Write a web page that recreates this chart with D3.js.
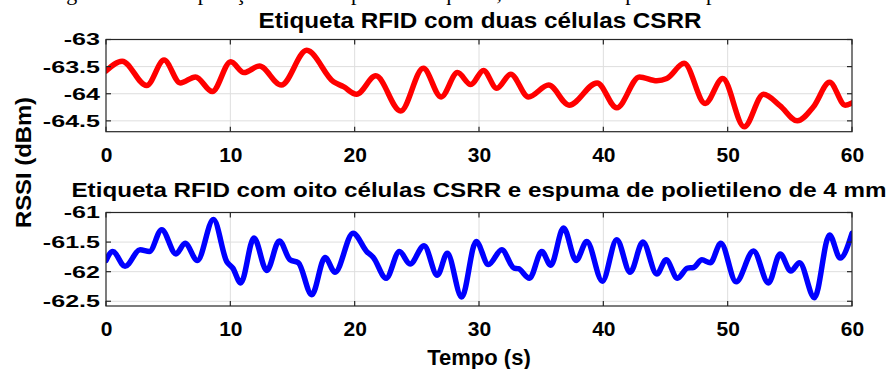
<!DOCTYPE html>
<html>
<head>
<meta charset="utf-8">
<script src="https://cdn.jsdelivr.net/npm/d3@7"></script>
<style>
  html, body { margin: 0; padding: 0; background: #fff; }
  svg { display: block; }
  text { font-family: "Liberation Sans", Arial, sans-serif; font-weight: bold; fill: #000; }
</style>
</head>
<body>
<svg id="chart" width="889" height="369"></svg>
<script>
// ---------------- data ----------------
const captionFragment = "Figura 41 – Comparação do RSSI para as etiquetas, com e sem espuma de polietileno";
const titleTop = "Etiqueta RFID com duas células CSRR";
const titleBottom = "Etiqueta RFID com oito células CSRR e espuma de polietileno de 4 mm";
const yLabel = "RSSI (dBm)";
const xLabel = "Tempo (s)";

const xTicks = [0, 10, 20, 30, 40, 50, 60];
const yTicksTop = [-63, -63.5, -64, -64.5];
const yTicksBottom = [-61, -61.5, -62, -62.5];

const timeTop = [0, 1.3, 3.27, 4.67, 5.97, 7.2, 8.55, 10.03, 11.1, 12.33, 14.1, 16.14, 18.3, 19.1, 20.15,
  21.7, 23.7, 25.52, 26.95, 28.27, 29.34, 30.36, 31.43, 32.55, 33.98, 35.6, 37.25, 39.5, 41.08, 42.9,
  44.3, 45.1, 46.5, 48.19, 49.6, 51.33, 52.88, 54.2, 55.6, 56.9, 58.2, 59.45, 60];
const rssiTop = [-63.58, -63.40, -63.85, -63.38, -63.80, -63.69, -63.96, -63.41, -63.61, -63.49, -63.84, -63.20, -63.78, -63.87, -64.01,
  -63.67, -64.32, -63.53, -64.06, -63.61, -63.83, -63.57, -63.90, -63.64, -64.06, -63.84, -64.21, -63.80, -64.26, -63.69,
  -63.76, -63.72, -63.44, -64.18, -63.72, -64.61, -64.01, -64.22, -64.50, -64.24, -63.79, -64.21, -64.17];

const timeBottom = [0, 0.54, 1.53, 2.74, 3.49, 4.48, 5.63, 6.36, 7.35, 8.64, 9.71, 10.2, 10.84, 11.9, 12.93,
  13.94, 14.8, 15.47, 16.55, 17.62, 18.42, 19.87, 20.97, 21.5, 22.53, 23.6, 24.46, 25.58, 26.65, 27.45,
  28.61, 29.77, 30.76, 31.83, 32.82, 33.17, 34.06, 35.05, 35.77, 36.8, 37.81, 38.67, 39.92, 41.08, 42.16,
  43.18, 44.3, 45.05, 45.96, 46.77, 47.25, 47.93, 48.6, 49.45, 50.68, 52.08, 53.28, 54.22, 55.08, 55.78,
  56.98, 58.19, 59.05, 60];
const rssiBottom = [-61.81, -61.66, -61.91, -61.63, -61.66, -61.29, -61.70, -61.52, -61.81, -61.12, -61.83, -61.94, -62.19, -61.43, -61.98,
  -61.48, -61.80, -61.85, -62.39, -61.76, -62.01, -61.35, -61.66, -61.76, -62.11, -61.66, -61.87, -61.56, -62.06, -61.69,
  -62.43, -61.49, -61.88, -61.63, -61.94, -61.95, -62.11, -61.66, -61.89, -61.26, -61.81, -61.49, -62.16, -61.46, -62.01,
  -61.50, -62.04, -61.80, -62.11, -61.94, -61.93, -61.80, -61.85, -61.52, -62.17, -61.65, -62.19, -61.70, -61.99, -61.85,
  -62.44, -61.38, -61.77, -61.35];

// ---------------- drawing ----------------
const svg = d3.select("#chart");

// cut-off caption line of the surrounding document (only descenders visible)
svg.append("text")
  .attr("x", 48).attr("y", -0.5)
  .style("font-family", "'Liberation Serif', 'Times New Roman', serif")
  .style("font-weight", "normal")
  .style("font-size", "22px")
  .text(captionFragment);

const x0 = 106, x1 = 852;

function panel(cfg) {
  const x = d3.scaleLinear().domain([0, 60]).range([x0, x1]);
  const y = d3.scaleLinear().domain(cfg.yDomain).range([cfg.yBottom, cfg.yTop]);
  const g = svg.append("g");
  const clipId = "clip" + cfg.id;
  svg.append("defs").append("clipPath").attr("id", clipId)
    .append("rect").attr("x", x0).attr("y", cfg.yTop).attr("width", x1 - x0).attr("height", cfg.yBottom - cfg.yTop);

  // grid
  g.selectAll(".gx").data(xTicks.slice(1, -1)).join("line")
    .attr("x1", d => x(d)).attr("x2", d => x(d))
    .attr("y1", cfg.yTop).attr("y2", cfg.yBottom)
    .attr("stroke", "#dedede").attr("stroke-width", 1);
  g.selectAll(".gy").data(cfg.yTicks).join("line")
    .attr("x1", x0).attr("x2", x1)
    .attr("y1", d => y(d)).attr("y2", d => y(d))
    .attr("stroke", "#dedede").attr("stroke-width", 1);

  // data line
  const line = d3.line().x(d => x(d[0])).y(d => y(d[1])).curve(d3.curveMonotoneX);
  g.append("path")
    .datum(cfg.t.map((t, i) => [t, cfg.v[i]]))
    .attr("clip-path", `url(#${clipId})`)
    .attr("d", line)
    .attr("fill", "none")
    .attr("stroke", cfg.color)
    .attr("stroke-width", 5.5)
    .attr("stroke-linejoin", "round")
    .attr("stroke-linecap", "round");

  // box
  g.append("rect")
    .attr("x", x0).attr("y", cfg.yTop).attr("width", x1 - x0).attr("height", cfg.yBottom - cfg.yTop)
    .attr("fill", "none").attr("stroke", "#262626").attr("stroke-width", 1.2);

  // ticks (inward, all four sides)
  const tl = 5;
  xTicks.forEach(d => {
    g.append("line").attr("x1", x(d)).attr("x2", x(d)).attr("y1", cfg.yBottom).attr("y2", cfg.yBottom - tl).attr("stroke", "#262626").attr("stroke-width", 1.2);
    g.append("line").attr("x1", x(d)).attr("x2", x(d)).attr("y1", cfg.yTop).attr("y2", cfg.yTop + tl).attr("stroke", "#262626").attr("stroke-width", 1.2);
  });
  cfg.yTicks.forEach(d => {
    g.append("line").attr("x1", x0).attr("x2", x0 + tl).attr("y1", y(d)).attr("y2", y(d)).attr("stroke", "#262626").attr("stroke-width", 1.2);
    g.append("line").attr("x1", x1).attr("x2", x1 - tl).attr("y1", y(d)).attr("y2", y(d)).attr("stroke", "#262626").attr("stroke-width", 1.2);
  });

  // x tick labels via d3 axis
  const ax = d3.axisBottom(x).tickValues(xTicks).tickFormat(d3.format("d")).tickSizeInner(0).tickSizeOuter(0).tickPadding(15);
  const axg = svg.append("g").attr("transform", `translate(0,${cfg.yBottom})`).call(ax);
  axg.select(".domain").remove();
  axg.selectAll(".tick line").remove();
  axg.selectAll("text").style("font-size", "21px").style("font-family", "'Liberation Sans', Arial, sans-serif").style("font-weight", "bold").attr("fill", "#000");

  // y tick labels (wide-looking, stretched horizontally)
  const fmt = d => (Number.isInteger(d) ? d3.format("d")(d) : d3.format(".1f")(d)).replace("−", "-");
  cfg.yTicks.forEach(d => {
    svg.append("text")
      .attr("transform", `translate(100,${y(d)}) scale(1.52,1)`)
      .attr("text-anchor", "end")
      .attr("dy", "0.36em")
      .style("font-size", "16.5px")
      .text(fmt(d));
  });

  // title
  svg.append("text")
    .attr("x", cfg.titleX).attr("y", cfg.titleY)
    .attr("text-anchor", "middle")
    .attr("textLength", cfg.titleW).attr("lengthAdjust", "spacingAndGlyphs")
    .style("font-size", cfg.titleSize + "px")
    .text(cfg.title);
}

panel({ id: "top", yDomain: [-64.7, -63], yTop: 39.5, yBottom: 131.7, yTicks: yTicksTop,
  t: timeTop, v: rssiTop, color: "#ff0000",
  title: titleTop, titleX: 480, titleY: 28, titleW: 443, titleSize: 22 });

panel({ id: "bot", yDomain: [-62.58, -61], yTop: 212.5, yBottom: 306, yTicks: yTicksBottom,
  t: timeBottom, v: rssiBottom, color: "#0000ff",
  title: titleBottom, titleX: 479, titleY: 197, titleW: 815, titleSize: 21 });

// axis labels
svg.append("text")
  .attr("transform", "translate(30.5,162.5) rotate(-90)")
  .attr("text-anchor", "middle")
  .attr("textLength", 131).attr("lengthAdjust", "spacingAndGlyphs")
  .style("font-size", "22px")
  .text(yLabel);

svg.append("text")
  .attr("x", 479).attr("y", 364.5)
  .attr("text-anchor", "middle")
  .style("font-size", "22px")
  .text(xLabel);
</script>
</body>
</html>
